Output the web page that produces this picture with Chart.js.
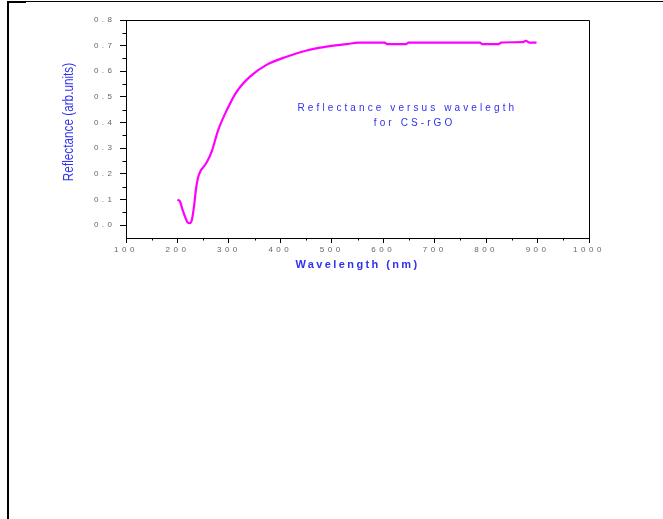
<!DOCTYPE html>
<html>
<head>
<meta charset="utf-8">
<title>Reflectance versus wavelength</title>
<script src="https://cdn.jsdelivr.net/npm/chart.js@4.4.1/dist/chart.umd.min.js"></script>
<style>
    html, body { margin: 0; padding: 0; background: #fff; }
    #page { position: relative; width: 663px; height: 519px; overflow: hidden; }
    .rule-top { position: absolute; left: 7px; top: 1px; width: 656px; height: 1px; background: #000; }
    .rule-tab { position: absolute; left: 7px; top: 1px; width: 19px; height: 2px; background: #000; }
    .rule-left { position: absolute; left: 7px; top: 1px; width: 2px; height: 518px; background: #000; }
    canvas { position: absolute; left: 0; top: 0; }
</style>
</head>
<body>
<div id="page">
    <div class="rule-top"></div>
    <div class="rule-tab"></div>
    <div class="rule-left"></div>
    <canvas id="reflChart" width="663" height="519"></canvas>
</div>
<script>
// === DATA ===
const wavelength = [200, 205, 210, 215, 220, 224, 228, 232, 236, 240, 245, 250, 257, 267, 279, 296, 315, 341, 373, 412, 451, 477, 500, 529, 552, 603, 607, 645, 649, 788, 792, 825, 829, 872, 877, 884, 898];
const reflectance = [0.100, 0.092, 0.060, 0.032, 0.010, 0.008, 0.020, 0.070, 0.140, 0.185, 0.212, 0.225, 0.245, 0.290, 0.370, 0.449, 0.520, 0.579, 0.625, 0.657, 0.681, 0.692, 0.699, 0.706, 0.712, 0.712, 0.706, 0.706, 0.712, 0.712, 0.706, 0.706, 0.712, 0.714, 0.719, 0.712, 0.712];

const xTicks = [100, 200, 300, 400, 500, 600, 700, 800, 900, 1000];
const xMinor = [150, 250, 350, 450, 550, 650, 750, 850, 950];
const yTicks = [0, 0.1, 0.2, 0.3, 0.4, 0.5, 0.6, 0.7, 0.8];
const yMinor = [0.05, 0.15, 0.25, 0.35, 0.45, 0.55, 0.65, 0.75];

const noteLines = ["Reflectance versus wavelegth", "for CS-rGO"];
const noteAt = [{ x: 644, y: 0.457 }, { x: 658, y: 0.398 }];

const BLUE = "#3030f0";
const GREY = "#666666";
const FONT = "'Liberation Sans', Arial, sans-serif";

// wrap a scale draw method so it runs with letter spacing / extra transform
function wrapScale(scale, name, spacing, transform) {
    if (scale["_wrap_" + name]) return;
    const orig = scale[name];
    scale[name] = function (...args) {
        const ctx = this.ctx;
        ctx.save();
        ctx.letterSpacing = spacing;
        if (transform) transform(ctx, this);
        orig.apply(this, args);
        ctx.restore();
    };
    scale["_wrap_" + name] = true;
}

const spacingPlugin = {
    id: "spacing",
    beforeDraw(chart) {
        wrapScale(chart.scales.x, "drawLabels", "3.5px");
        wrapScale(chart.scales.y, "drawLabels", "3.5px");
        wrapScale(chart.scales.x, "drawTitle", "2.4px");
        // y title: narrow look (squeeze along the text) and lift a little
        wrapScale(chart.scales.y, "drawTitle", "0px", (c, s) => {
            const cy = (s.top + s.bottom) / 2;
            c.translate(0, cy - 7);
            c.scale(1, 0.84);
            c.translate(0, -cy);
        });
    },
};

// minor ticks + top/right frame
const framePlugin = {
    id: "frame",
    afterDraw(chart) {
        const { ctx, chartArea, scales } = chart;
        ctx.save();
        ctx.strokeStyle = "#000";
        ctx.lineWidth = 1;
        ctx.beginPath();
        xMinor.forEach((v) => {
            const px = Math.round(scales.x.getPixelForValue(v)) + 0.5;
            ctx.moveTo(px, chartArea.bottom);
            ctx.lineTo(px, chartArea.bottom + 2.5);
        });
        yMinor.forEach((v) => {
            const py = Math.round(scales.y.getPixelForValue(v)) + 0.5;
            ctx.moveTo(chartArea.left, py);
            ctx.lineTo(chartArea.left - 3.5, py);
        });
        ctx.moveTo(chartArea.left, chartArea.top + 0.5);
        ctx.lineTo(chartArea.right + 0.5, chartArea.top + 0.5);
        ctx.lineTo(chartArea.right + 0.5, chartArea.bottom);
        ctx.stroke();
        ctx.restore();
    },
};

// text note inside the plot
const notePlugin = {
    id: "note",
    afterDatasetsDraw(chart) {
        const { ctx, scales } = chart;
        ctx.save();
        ctx.font = "10px " + FONT;
        ctx.letterSpacing = "3.1px";
        ctx.fillStyle = BLUE;
        ctx.textAlign = "center";
        ctx.textBaseline = "middle";
        noteLines.forEach((txt, i) => {
            ctx.fillText(txt, scales.x.getPixelForValue(noteAt[i].x) + 1.5, scales.y.getPixelForValue(noteAt[i].y));
        });
        ctx.restore();
    },
};

const ctx = document.getElementById("reflChart").getContext("2d");

new Chart(ctx, {
    type: "line",
    data: {
        datasets: [{
            label: "CS-rGO",
            data: wavelength.map((w, i) => ({ x: w, y: reflectance[i] })),
            borderColor: "#ff00ff",
            borderWidth: 2.2,
            pointRadius: 0,
            fill: false,
            cubicInterpolationMode: "monotone",
        }],
    },
    options: {
        responsive: false,
        animation: false,
        devicePixelRatio: 1,
        layout: { padding: { left: 61, right: 74, top: 20, bottom: 247 } },
        plugins: {
            legend: { display: false },
            tooltip: { enabled: false },
        },
        scales: {
            x: {
                type: "linear",
                min: 100,
                max: 1000,
                afterBuildTicks: (s) => { s.ticks = xTicks.map((v) => ({ value: v })); },
                afterFit: (s) => { s.height = 34; },
                grid: { drawOnChartArea: false, drawTicks: true, tickLength: 5, tickColor: "#000" },
                border: { color: "#000", width: 1 },
                ticks: {
                    color: GREY,
                    font: { family: FONT, size: 8 },
                    padding: 1.5,
                    autoSkip: false,
                    maxRotation: 0,
                    callback: (v) => String(v),
                },
                title: {
                    display: true,
                    text: "Wavelength (nm)",
                    color: BLUE,
                    font: { family: FONT, size: 11, weight: "bold" },
                    padding: 0,
                },
            },
            y: {
                type: "linear",
                min: -0.05,
                max: 0.8,
                afterBuildTicks: (s) => { s.ticks = yTicks.map((v) => ({ value: v })); },
                afterFit: (s) => { s.width = 65; },
                grid: { drawOnChartArea: false, drawTicks: true, tickLength: 6, tickColor: "#000" },
                border: { color: "#000", width: 1 },
                ticks: {
                    color: GREY,
                    font: { family: FONT, size: 8 },
                    padding: 4.5,
                    callback: (v) => Number(v).toFixed(1),
                },
                title: {
                    display: true,
                    text: "Reflectance (arb.units)",
                    color: BLUE,
                    font: { family: FONT, size: 14 },
                    padding: 0,
                },
            },
        },
    },
    plugins: [spacingPlugin, framePlugin, notePlugin],
});
</script>
</body>
</html>
